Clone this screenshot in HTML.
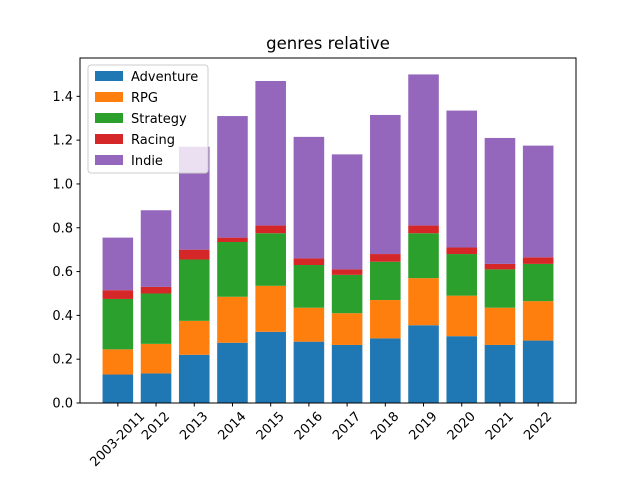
<!DOCTYPE html>
<html><head><meta charset="utf-8"><style>
html,body{margin:0;padding:0;background:#fff}
svg{display:block;font-family:"DejaVu Sans","Liberation Sans",sans-serif}
</style></head><body>
<svg id="chart" width="640" height="480">
<text x="328" y="49" text-anchor="middle" font-size="16.5">genres relative</text>
<g id="bars"></g>
<rect x="80" y="58" width="496" height="345" fill="none" stroke="#000" stroke-width="1"/>
<g id="yaxis"></g><g id="xaxis"></g><g id="legend"></g>
</svg>
<script>
const categories=["2003-2011","2012","2013","2014","2015","2016","2017","2018","2019","2020","2021","2022"];
const seriesNames=["Adventure","RPG","Strategy","Racing","Indie"];
const adventure=[0.13,0.135,0.22,0.275,0.325,0.28,0.265,0.295,0.355,0.305,0.265,0.285];
const rpg=[0.115,0.135,0.155,0.21,0.21,0.155,0.145,0.175,0.215,0.185,0.17,0.18];
const strategy=[0.23,0.23,0.28,0.25,0.24,0.195,0.175,0.175,0.205,0.19,0.175,0.17];
const racing=[0.04,0.03,0.045,0.02,0.035,0.03,0.025,0.035,0.035,0.03,0.025,0.03];
const indie=[0.24,0.35,0.47,0.555,0.66,0.555,0.525,0.635,0.69,0.625,0.575,0.51];
const yTicks=[0,0.2,0.4,0.6,0.8,1.0,1.2,1.4];
const colors=["#1f77b4","#ff7f0e","#2ca02c","#d62728","#9467bd"];
const NS="http://www.w3.org/2000/svg";
const series=[adventure,rpg,strategy,racing,indie];
const L=80,R=576,T=58,B=403;
let maxT=0;categories.forEach((c,i)=>{let s=0;series.forEach(a=>s+=a[i]);maxT=Math.max(maxT,s);});
const yMax=maxT*1.05;
const y=v=>B-(v/yMax)*(B-T);
const xMin=-0.99,xMax=categories.length-1+0.99;
const x=i=>L+(i-xMin)/(xMax-xMin)*(R-L);
const unit=(R-L)/(xMax-xMin);
function mk(tag,attrs,parent){const e=document.createElementNS(NS,tag);for(const k in attrs)e.setAttribute(k,attrs[k]);parent.appendChild(e);return e;}
const gb=document.getElementById('bars');
categories.forEach((c,i)=>{let base=0;series.forEach((a,s)=>{const v=a[i];
const r=mk('rect',{x:x(i)-0.4*unit,y:y(base+v),width:0.8*unit,height:y(base)-y(base+v),fill:colors[s]},gb);


base+=v;});});
const gy=document.getElementById('yaxis');
yTicks.forEach(t=>{const yy=y(t);
mk('line',{x1:L-3.5,x2:L,y1:yy,y2:yy,stroke:'#000'},gy);
const tx=mk('text',{x:L-7,y:yy+4.5,'text-anchor':'end','font-size':'13'},gy);tx.textContent=t.toFixed(1);

});
const gx=document.getElementById('xaxis');
categories.forEach((c,i)=>{const xx=x(i);
mk('line',{x1:xx,x2:xx,y1:B,y2:B+3.5,stroke:'#000'},gx);
const tx=mk('text',{x:0,y:0,'text-anchor':'middle','dominant-baseline':'central','font-size':'13'},gx);tx.textContent=c;


const w=tx.getComputedTextLength(),h=13;
const cy=B+7+(w+h)*0.7071/2;
tx.setAttribute('transform',`translate(${xx},${cy}) rotate(-45)`);});
const gl=document.getElementById('legend');
const box=mk('rect',{x:88,y:65,width:120,height:108,rx:3,fill:'#fff','fill-opacity':0.8,stroke:'#ccc'},gl);


seriesNames.forEach((n,s)=>{const yy=76+s*21;
mk('rect',{x:95,y:yy-5,width:28,height:10,fill:colors[s]},gl);
const tx=mk('text',{x:131,y:yy+5,'font-size':'13'},gl);tx.textContent=n;

});
</script>
</body></html>
